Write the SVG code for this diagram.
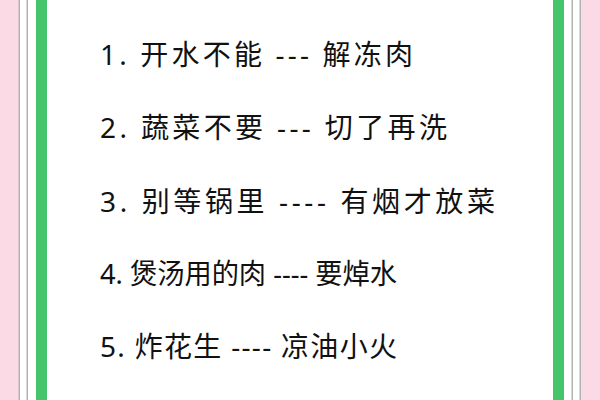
<svg xmlns="http://www.w3.org/2000/svg" width="600" height="400" viewBox="0 0 600 400">
<style>
text{font-family:"Noto Sans","Noto Sans CJK SC",sans-serif;font-size:28px;fill:#111}
</style>
<rect width="600" height="400" fill="#fff"/>
<rect x="0" y="0" width="19" height="400" fill="#fbd9e5"/>
<rect x="581" y="0" width="19" height="400" fill="#fbd9e5"/>
<rect x="18.5" y="0" width="1.5" height="400" fill="#b3b3b3"/>
<rect x="26.5" y="0" width="1.5" height="400" fill="#b3b3b3"/>
<rect x="571.5" y="0" width="1.5" height="400" fill="#b3b3b3"/>
<rect x="579.5" y="0" width="1.5" height="400" fill="#b3b3b3"/>
<rect x="36" y="0" width="11" height="400" fill="#45c46b"/>
<rect x="553" y="0" width="11" height="400" fill="#45c46b"/>
<g id="items">
<text x="100" y="65" textLength="313" lengthAdjust="spacing">1. 开水不能 --- 解冻肉</text>
<text x="100" y="138" textLength="347" lengthAdjust="spacing">2. 蔬菜不要 --- 切了再洗</text>
<text x="100" y="212" textLength="395" lengthAdjust="spacing">3. 别等锅里 ---- 有烟才放菜</text>
<text x="100" y="284" textLength="297" lengthAdjust="spacingAndGlyphs">4. 煲汤用的肉 ---- 要焯水</text>
<text x="100" y="357" textLength="297" lengthAdjust="spacing">5. 炸花生 ---- 凉油小火</text>
</g>
</svg>
